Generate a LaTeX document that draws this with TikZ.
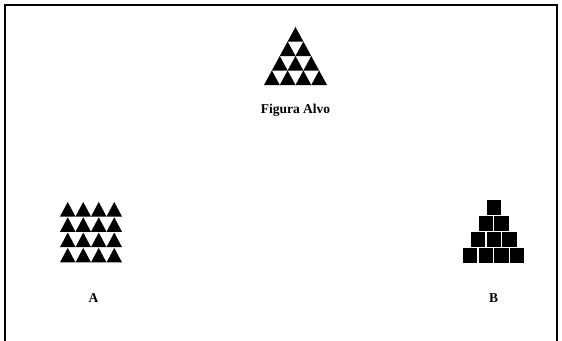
\documentclass[tikz,border=0pt]{standalone}
\usepackage{fontspec}
\setmainfont{Liberation Serif}
\begin{document}
\begin{tikzpicture}[x=1pt, y=-1pt]
    % Define styles
    \tikzset{
        frame/.style={line width=1.6pt},
        blacktri/.style={fill=black},
        blocksq/.style={fill=black},
        caption/.style={font=\bfseries\fontsize{13.5}{16}\selectfont, inner sep=0pt}
    }
    \useasboundingbox (0,0) rectangle (562,340);

    % Outer frame (bottom edge runs off the page)
    \draw[frame] (5,341) -- (5,5) -- (557,5) -- (557,341);

    % Target figure
    \begin{scope}[shift={(295.5,27)}]
        \foreach \r in {0,...,3} {
            \foreach \k in {0,...,\r} {
                \fill[blacktri] ({(\k-\r/2)*15.75},{\r*14.5}) -- ++(7.875,14.5) -- ++(-15.75,0) -- cycle;
            }
        }
        \node[caption] (alvo) at (0,83) {Figura Alvo};
    \end{scope}

    % Option A: grid of triangles
    \begin{scope}[shift={(60,202)}]
        \foreach \i in {0,...,3} {
            \foreach \j in {0,...,3} {
                \fill[blacktri] ({\j*15.5},{\i*15.3+14.5}) -- ++(7.75,-14.5) -- ++(7.75,14.5) -- cycle;
            }
        }
        \node[caption] (optA) at (33.5,96) {A};
    \end{scope}

    % Option B: pyramid of squares
    \begin{scope}[shift={(493.7,200)}]
        \foreach \r in {0,...,3} {
            \foreach \k in {0,...,\r} {
                \fill[blocksq] ({(\k-(\r+1)/2)*15.75+0.7},{\r*16}) rectangle ++(14.3,14.6);
            }
        }
        \node[caption] (optB) at (0,98) {B};
    \end{scope}
\end{tikzpicture}
\end{document}
